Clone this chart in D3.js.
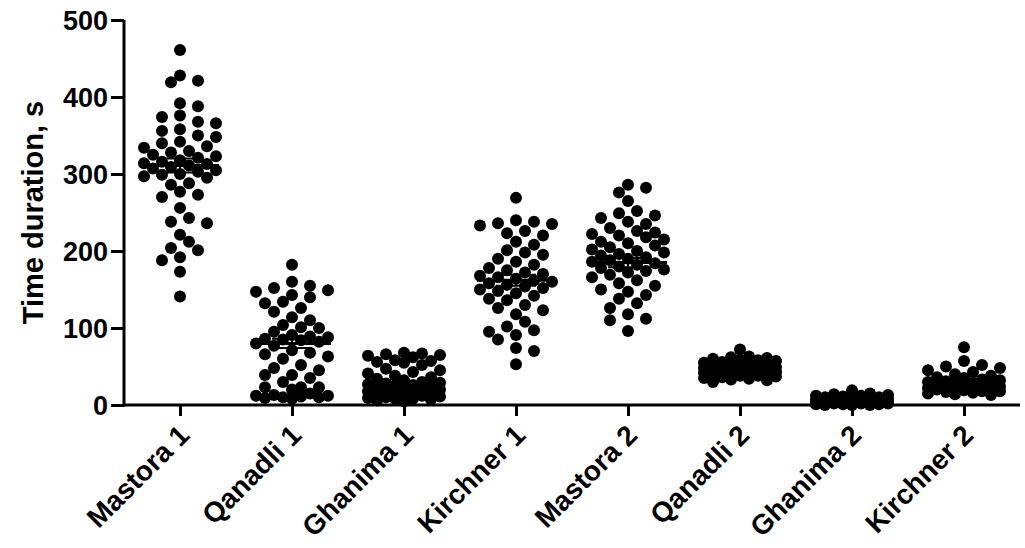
<!DOCTYPE html>
<html>
<head>
<meta charset="utf-8">
<script src="https://cdn.jsdelivr.net/npm/d3@7"></script>
<style>
  html, body { margin: 0; padding: 0; background: #fff; }
  svg { display: block; }
  text { font-family: Arial, "Liberation Sans", Helvetica, sans-serif; font-weight: bold; fill: #000; }
</style>
</head>
<body>
<svg id="chart" width="1025" height="548"></svg>
<script>
const categories = ["Mastora 1", "Qanadli 1", "Ghanima 1", "Kirchner 1", "Mastora 2", "Qanadli 2", "Ghanima 2", "Kirchner 2"];

const mastora1 = [461, 428, 421, 419, 392, 388, 376, 374, 368, 366, 358, 356, 350, 348, 342, 340, 336, 334, 330, 328, 325, 323, 321, 318, 316, 314, 313, 311, 309, 307, 305, 303, 300, 299, 297, 295, 288, 286, 277, 273, 270, 256, 243, 238, 236, 221, 212, 204, 201, 192, 188, 173, 141];
const qanadli1 = [182, 160, 155, 152, 149, 147, 143, 140, 134, 132, 126, 121, 114, 110, 104, 101, 100, 95, 91, 89, 88, 86, 85, 84, 82, 80, 77, 71, 68, 66, 63, 60, 52, 48, 45, 39, 39, 35, 30, 23, 23, 23, 20, 15, 13, 12, 12, 11, 10, 10, 9, 8];
const ghanima1 = [68, 67, 66, 65, 64, 62, 58, 57, 56, 55, 52, 47, 45, 43, 41, 38, 36, 34, 32, 30, 29, 28, 27, 26, 25, 24, 23, 22, 21, 20, 19, 18, 17, 16, 15, 14, 13, 12, 11, 10, 9, 8, 8, 7, 6, 5];
const kirchner1 = [269, 240, 238, 236, 235, 233, 226, 223, 220, 212, 208, 201, 198, 195, 190, 186, 182, 178, 175, 172, 170, 168, 166, 164, 162, 160, 158, 156, 154, 152, 150, 148, 145, 142, 138, 136, 130, 126, 123, 118, 108, 102, 97, 95, 91, 85, 74, 70, 53];
const mastora2 = [286, 282, 276, 265, 252, 249, 246, 243, 238, 235, 230, 226, 224, 222, 220, 218, 215, 212, 210, 207, 205, 202, 200, 198, 196, 194, 192, 190, 188, 186, 184, 182, 180, 178, 176, 174, 172, 169, 166, 162, 158, 155, 150, 147, 143, 138, 132, 126, 118, 112, 110, 96];
const qanadli2 = [72, 63, 62, 61, 60, 59, 58, 57, 56, 55, 54, 53, 52, 51, 50, 50, 49, 48, 48, 47, 46, 46, 45, 44, 44, 43, 42, 42, 41, 40, 40, 39, 38, 38, 37, 36, 35, 34, 33, 32, 30];
const ghanima2 = [19, 15, 14, 13, 12, 12, 11, 10, 10, 9, 9, 8, 8, 8, 7, 7, 7, 6, 6, 6, 5, 5, 5, 4, 4, 4, 3, 3, 3, 2, 2, 2, 1, 1, 1, 0, 0, 0];
const kirchner2 = [75, 57, 52, 50, 48, 45, 43, 40, 38, 36, 35, 33, 32, 31, 30, 29, 28, 27, 26, 25, 25, 24, 23, 22, 22, 21, 20, 20, 19, 18, 18, 17, 16, 15, 14, 13];

const seriesValues = [mastora1, qanadli1, ghanima1, kirchner1, mastora2, qanadli2, ghanima2, kirchner2];
const means = [311, 80, 25, 162, 185, 47, 7, 28];
const sems = [9, 6, 2.5, 7, 6, 1.5, 0.8, 2];
const yTicks = [0, 100, 200, 300, 400, 500];

const svg = d3.select("#chart");
const x = d3.scalePoint().domain(categories).range([180, 964]);
const y = d3.scaleLinear().domain([0, 500]).range([405, 20]);

const axisX0 = 124, axisX1 = 1020;

// column-scatter placement (dodge with a width limit, overlap allowed when crowded)
function dodge(vals, dd, step, maxW) {
  const sorted = vals.map((v, i) => ({ v, i })).sort((a, b) => b.v - a.v);
  const placed = [];
  const offs = [0];
  for (let k = 1; k * step <= maxW + 0.01; k++) { offs.push(k * step, -k * step); }
  sorted.forEach(p => {
    const py = y(p.v);
    let best = null, bestD = -1;
    for (const o of offs) {
      let md = Infinity;
      for (const q of placed) {
        const dy = q.y - py;
        if (Math.abs(dy) >= dd) continue;
        const d = Math.hypot(q.x - o, dy);
        if (d < md) md = d;
      }
      if (md >= dd) { best = o; bestD = md; break; }
      if (md > bestD) { bestD = md; best = o; }
    }
    placed.push({ x: best, y: py, v: p.v });
  });
  return placed;
}

const r = 6;
seriesValues.forEach((vals, gi) => {
  const cx = x(categories[gi]);
  const pts = dodge(vals, 11, 9, 36);
  svg.append("g").selectAll("circle").data(pts).join("circle")
    .attr("cx", d => cx + d.x)
    .attr("cy", d => d.y)
    .attr("r", r)
    .attr("fill", "#000");
});

// mean lines and SEM bars
const meanG = svg.append("g");
categories.forEach((c, i) => {
  const cx = x(c);
  meanG.append("line").attr("x1", cx - 39).attr("x2", cx + 39)
    .attr("y1", y(means[i])).attr("y2", y(means[i]))
    .attr("stroke", "#000").attr("stroke-width", 3);
  const lo = y(means[i] - sems[i]), hi = y(means[i] + sems[i]);
  meanG.append("line").attr("x1", cx).attr("x2", cx).attr("y1", lo).attr("y2", hi)
    .attr("stroke", "#000").attr("stroke-width", 2);
  [lo, hi].forEach(yy => meanG.append("line").attr("x1", cx - 20).attr("x2", cx + 20)
    .attr("y1", yy).attr("y2", yy).attr("stroke", "#000").attr("stroke-width", 2));
});

// Y axis
const yAxis = d3.axisLeft(y).tickValues(yTicks).tickSize(13).tickPadding(3).tickSizeOuter(0);
const gy = svg.append("g").attr("transform", `translate(${axisX0},0)`).call(yAxis);
gy.select(".domain").attr("stroke", "#000").attr("stroke-width", 3).attr("d", `M0,${y(0) + 1.5}V${y(500)}`);
gy.selectAll(".tick line").attr("stroke", "#000").attr("stroke-width", 3);
gy.selectAll(".tick text").style("font-size", "27px").style("font-weight", "bold")
  .style("font-family", "Arial, 'Liberation Sans', sans-serif").attr("fill", "#000").attr("dy", "0.36em");

// X axis
const xAxis = d3.axisBottom(x).tickSize(11).tickSizeOuter(0).tickFormat("");
const gx = svg.append("g").attr("transform", `translate(0,${y(0)})`).call(xAxis);
gx.select(".domain").attr("stroke", "#000").attr("stroke-width", 3).attr("d", `M${axisX0},0H${axisX1}`);
gx.selectAll(".tick line").attr("stroke", "#000").attr("stroke-width", 3);

svg.append("g").selectAll("text").data(categories).join("text")
  .attr("transform", d => `translate(${x(d) + 4},${y(0) + 25}) rotate(-45)`)
  .attr("text-anchor", "end")
  .attr("dy", "0.35em")
  .style("font-size", "28px")
  .text(d => d);

// Y label
svg.append("text")
  .attr("transform", `translate(43,${(y(0) + y(500)) / 2}) rotate(-90)`)
  .attr("text-anchor", "middle")
  .style("font-size", "29px")
  .text("Time duration, s");
</script>
</body>
</html>
